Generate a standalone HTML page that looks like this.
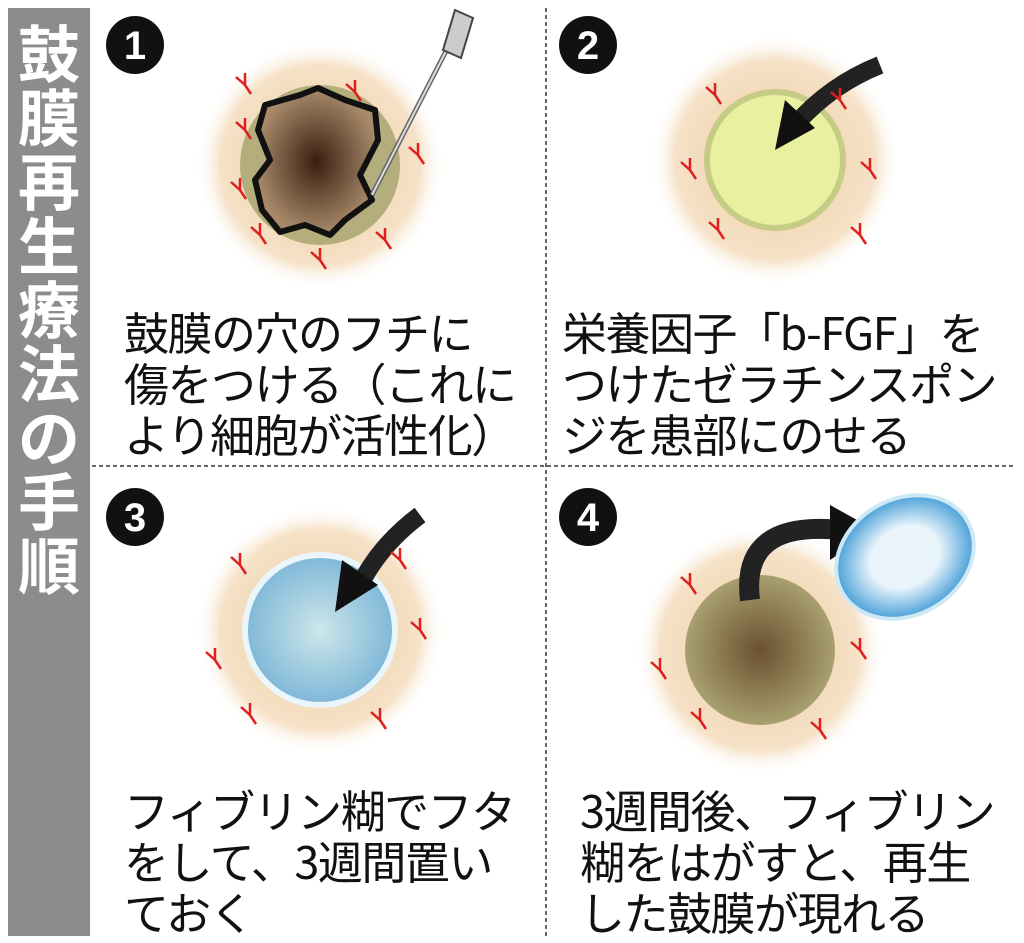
<!DOCTYPE html>
<html><head><meta charset="utf-8"><style>
body{margin:0;width:1024px;height:942px;background:#fff;position:relative;overflow:hidden;font-family:"Liberation Sans","Noto Sans CJK JP",sans-serif;}
.bar{position:absolute;left:8px;top:8px;width:82px;height:928px;background:#8c8c8c;}
.vt{position:absolute;left:14px;top:18px;width:70px;color:#fff;font-weight:bold;font-size:62px;line-height:64px;text-align:center;font-family:"Noto Sans CJK JP",sans-serif;}
.t{position:absolute;font-size:45px;line-height:51px;color:#111;font-family:"Noto Sans CJK JP",sans-serif;letter-spacing:-1.5px;white-space:nowrap;}
</style></head><body>
<div class="bar"></div>
<div class="vt">鼓<br>膜<br>再<br>生<br>療<br>法<br>の<br>手<br>順</div>
<svg width="1024" height="942" style="position:absolute;left:0;top:0">
<defs>
<radialGradient id="glow"><stop offset="0" stop-color="#eccb9c"/><stop offset="0.8" stop-color="#f6e2c8"/><stop offset="1" stop-color="#fff" stop-opacity="0"/></radialGradient>
<radialGradient id="hole"><stop offset="0" stop-color="#3a1f10"/><stop offset="1" stop-color="#a88a6a"/></radialGradient>
<radialGradient id="olive"><stop offset="0" stop-color="#6b5030"/><stop offset="1" stop-color="#a8a070"/></radialGradient>
<radialGradient id="blue"><stop offset="0" stop-color="#cde6ea"/><stop offset="1" stop-color="#7fb8d8"/></radialGradient>
<radialGradient id="lens"><stop offset="0.5" stop-color="#eaf4fb"/><stop offset="1" stop-color="#4aa0d8"/></radialGradient>
<g id="v"><path d="M0 0 l0 -12 M0 0 l-9 -8 M0 0 l6 9" stroke="#e02020" stroke-width="2.5" fill="none"/></g>
</defs>
<line x1="546" y1="8" x2="546" y2="936" stroke="#333" stroke-width="1.5" stroke-dasharray="4 3"/>
<line x1="92" y1="466" x2="1016" y2="466" stroke="#333" stroke-width="1.5" stroke-dasharray="4 3"/>
<g font-family="Liberation Sans" font-weight="bold" font-size="40" fill="#fff" text-anchor="middle">
<circle cx="135" cy="45" r="29" fill="#111"/><text x="135" y="59">1</text>
<circle cx="588" cy="45" r="29" fill="#111"/><text x="588" y="59">2</text>
<circle cx="135" cy="517" r="29" fill="#111"/><text x="135" y="531">3</text>
<circle cx="588" cy="517" r="29" fill="#111"/><text x="588" y="531">4</text>
</g>
<!-- panel1 -->
<circle cx="320" cy="165" r="125" fill="url(#glow)"/>
<circle cx="320" cy="165" r="80" fill="#b3ae7c"/>
<path d="M265 105 L300 95 L318 88 L345 100 L375 110 L378 140 L360 175 L372 200 L345 220 L330 235 L305 225 L280 232 L262 210 L255 180 L270 160 L258 130 Z" fill="url(#hole)" stroke="#111" stroke-width="6" stroke-linejoin="round"/>
<line x1="462" y1="20" x2="372" y2="195" stroke="#666" stroke-width="5"/>
<line x1="462" y1="20" x2="372" y2="195" stroke="#ddd" stroke-width="2"/>
<path d="M455 10 l18 8 l-12 40 l-18 -8z" fill="#ccc" stroke="#444" stroke-width="2"/>
<g>
<use href="#v" x="245" y="85"/><use href="#v" x="245" y="130"/><use href="#v" x="240" y="190"/><use href="#v" x="260" y="235"/>
<use href="#v" x="355" y="92"/><use href="#v" x="418" y="155"/><use href="#v" x="385" y="240"/><use href="#v" x="320" y="260"/>
</g>
<!-- panel2 -->
<circle cx="775" cy="160" r="125" fill="url(#glow)"/>
<circle cx="775" cy="160" r="68" fill="#e9f0a0" stroke="#c6cc86" stroke-width="6"/>
<path d="M880 65 Q830 85 795 125" stroke="#222" stroke-width="18" fill="none"/>
<path d="M775 150 L785 100 L815 128 Z" fill="#111"/>
<g><use href="#v" x="715" y="95"/><use href="#v" x="690" y="170"/><use href="#v" x="718" y="230"/><use href="#v" x="860" y="235"/><use href="#v" x="870" y="170"/><use href="#v" x="840" y="100"/></g>
<!-- panel3 -->
<circle cx="320" cy="630" r="125" fill="url(#glow)"/>
<circle cx="320" cy="630" r="75" fill="url(#blue)" stroke="#eaf6fb" stroke-width="6"/>
<path d="M420 515 Q380 545 360 585" stroke="#222" stroke-width="18" fill="none"/>
<path d="M335 612 L342 560 L378 585 Z" fill="#111"/>
<g><use href="#v" x="240" y="565"/><use href="#v" x="215" y="660"/><use href="#v" x="250" y="715"/><use href="#v" x="380" y="720"/><use href="#v" x="420" y="630"/><use href="#v" x="400" y="560"/></g>
<!-- panel4 -->
<circle cx="760" cy="650" r="125" fill="url(#glow)"/>
<circle cx="760" cy="650" r="75" fill="url(#olive)"/>
<path d="M750 600 Q740 520 840 530" stroke="#222" stroke-width="20" fill="none"/>
<path d="M830 505 L875 530 L830 560 Z" fill="#111"/>
<ellipse cx="905" cy="557" rx="72" ry="58" transform="rotate(-30 905 557)" fill="url(#lens)" stroke="#cfe8f6" stroke-width="4"/>
<g><use href="#v" x="690" y="585"/><use href="#v" x="660" y="670"/><use href="#v" x="700" y="720"/><use href="#v" x="820" y="730"/><use href="#v" x="860" y="650"/></g>
</svg>
<div class="t" style="left:124px;top:305px">鼓膜の穴のフチに<br>傷をつける（これに<br>より細胞が活性化）</div>
<div class="t" style="left:562px;top:305px">栄養因子「b-FGF」を<br>つけたゼラチンスポン<br>ジを患部にのせる</div>
<div class="t" style="left:124px;top:783px">フィブリン糊でフタ<br>をして、3週間置い<br>ておく</div>
<div class="t" style="left:580px;top:783px">3週間後、フィブリン<br>糊をはがすと、再生<br>した鼓膜が現れる</div>
</body></html>
